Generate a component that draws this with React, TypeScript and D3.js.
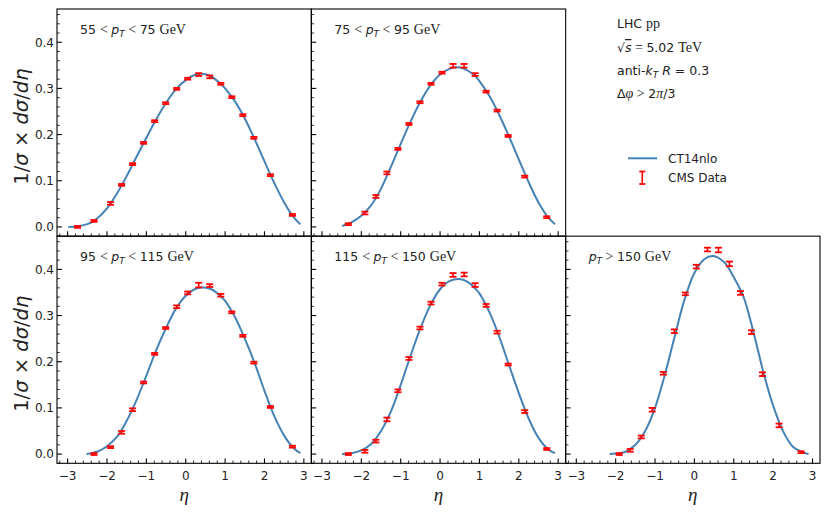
import React from "react";
import * as d3 from "d3";

// ---------- DATA ----------
const etaBins = [-2.75, -2.33, -1.91, -1.63, -1.35, -1.07, -0.79, -0.51, -0.23, 0.05, 0.33, 0.61, 0.89, 1.17, 1.45, 1.73, 2.15, 2.71];

const panelTitles = ["55 < pT < 75", "75 < pT < 95", "95 < pT < 115", "115 < pT < 150", "pT > 150"];

// CMS data (normalised), first index = first bin present in the panel
const cms55 = [0.000, 0.013, 0.051, 0.091, 0.136, 0.182, 0.229, 0.268, 0.299, 0.321, 0.330, 0.325, 0.310, 0.281, 0.242, 0.193, 0.112, 0.026];
const err55 = [0.002, 0.002, 0.003, 0.002, 0.002, 0.002, 0.002, 0.002, 0.002, 0.002, 0.003, 0.003, 0.002, 0.002, 0.002, 0.002, 0.002, 0.002];
const cms75 = [0.006, 0.030, 0.066, 0.117, 0.169, 0.223, 0.270, 0.310, 0.334, 0.349, 0.349, 0.330, 0.293, 0.252, 0.197, 0.109, 0.021];
const err75 = [0.002, 0.003, 0.003, 0.003, 0.002, 0.002, 0.002, 0.002, 0.002, 0.004, 0.004, 0.003, 0.002, 0.002, 0.002, 0.002, 0.002];
const cms95 = [0.000, 0.015, 0.047, 0.096, 0.155, 0.217, 0.273, 0.319, 0.349, 0.366, 0.365, 0.344, 0.307, 0.256, 0.198, 0.102, 0.016];
const err95 = [0.002, 0.002, 0.003, 0.003, 0.002, 0.002, 0.002, 0.003, 0.003, 0.005, 0.003, 0.003, 0.002, 0.002, 0.002, 0.002, 0.002];
const cms115 = [0.000, 0.006, 0.028, 0.075, 0.137, 0.207, 0.273, 0.327, 0.368, 0.388, 0.389, 0.366, 0.322, 0.264, 0.194, 0.092, 0.011];
const err115 = [0.002, 0.003, 0.003, 0.004, 0.003, 0.003, 0.003, 0.003, 0.003, 0.004, 0.004, 0.004, 0.003, 0.003, 0.002, 0.003, 0.002];
const cms150 = [0.000, 0.008, 0.037, 0.096, 0.175, 0.266, 0.347, 0.406, 0.443, 0.442, 0.412, 0.349, 0.264, 0.173, 0.062, 0.004];
const err150 = [0.002, 0.003, 0.003, 0.004, 0.003, 0.004, 0.003, 0.004, 0.004, 0.005, 0.005, 0.004, 0.004, 0.004, 0.004, 0.002];
const firstBin = [0, 1, 1, 1, 2];

// CT14nlo theory curves [eta, value]
const ct55: [number, number][] = [[-2.98, 0.000], [-2.75, 0.001], [-2.5, 0.006], [-2.33, 0.013], [-2.0, 0.040], [-1.75, 0.072], [-1.5, 0.110], [-1.25, 0.152], [-1.0, 0.193], [-0.75, 0.233], [-0.5, 0.269], [-0.25, 0.298], [0.0, 0.318], [0.25, 0.330], [0.4, 0.332], [0.6, 0.328], [0.85, 0.313], [1.0, 0.300], [1.25, 0.272], [1.5, 0.235], [1.75, 0.190], [2.0, 0.142], [2.25, 0.095], [2.5, 0.053], [2.75, 0.020], [2.91, 0.006]];
const ct75: [number, number][] = [[-2.49, 0.002], [-2.25, 0.010], [-2.0, 0.024], [-1.75, 0.047], [-1.5, 0.083], [-1.25, 0.130], [-1.0, 0.180], [-0.75, 0.228], [-0.5, 0.271], [-0.25, 0.306], [0.0, 0.330], [0.25, 0.343], [0.43, 0.346], [0.6, 0.343], [0.85, 0.330], [1.0, 0.316], [1.25, 0.284], [1.5, 0.243], [1.75, 0.196], [2.0, 0.146], [2.25, 0.097], [2.5, 0.053], [2.75, 0.020], [2.92, 0.006]];
const ct95: [number, number][] = [[-2.52, 0.000], [-2.25, 0.005], [-2.0, 0.017], [-1.75, 0.037], [-1.5, 0.072], [-1.25, 0.117], [-1.0, 0.170], [-0.75, 0.225], [-0.5, 0.273], [-0.25, 0.315], [0.0, 0.343], [0.25, 0.358], [0.45, 0.361], [0.65, 0.357], [0.9, 0.341], [1.0, 0.332], [1.25, 0.297], [1.5, 0.250], [1.75, 0.197], [2.0, 0.137], [2.25, 0.082], [2.5, 0.040], [2.75, 0.012], [2.91, 0.002]];
const ct115: [number, number][] = [[-2.49, 0.000], [-2.25, 0.002], [-2.0, 0.008], [-1.75, 0.022], [-1.5, 0.050], [-1.25, 0.092], [-1.0, 0.150], [-0.75, 0.213], [-0.5, 0.272], [-0.25, 0.322], [0.0, 0.357], [0.25, 0.375], [0.48, 0.379], [0.7, 0.373], [0.9, 0.358], [1.0, 0.348], [1.25, 0.308], [1.5, 0.255], [1.75, 0.193], [2.0, 0.132], [2.25, 0.077], [2.5, 0.035], [2.75, 0.010], [2.92, 0.002]];
const ct150: [number, number][] = [[-2.15, 0.000], [-2.0, 0.001], [-1.75, 0.005], [-1.5, 0.020], [-1.25, 0.050], [-1.0, 0.100], [-0.75, 0.172], [-0.5, 0.255], [-0.25, 0.335], [0.0, 0.392], [0.25, 0.422], [0.47, 0.429], [0.75, 0.416], [1.0, 0.383], [1.25, 0.340], [1.5, 0.264], [1.75, 0.178], [2.0, 0.105], [2.25, 0.050], [2.5, 0.016], [2.75, 0.004], [2.9, 0.000]];

const xTickValues = [-3, -2, -1, 0, 1, 2, 3];
const yTickValues = [0, 0.1, 0.2, 0.3, 0.4];

// ---------- LAYOUT ----------
const W = 830, H = 514;
const L = 57, R = 820, T = 9, B = 463.3;
const PW = (R - L) / 3, PH = (B - T) / 2;
const xDomain: [number, number] = [-3.27, 3.19];
const yDomain: [number, number] = [-0.02, 0.472];

const SANS = "'DejaVu Sans', sans-serif";
const SERIF = "'Liberation Serif', 'DejaVu Serif', serif";
const BLUE = "#4682b4";
const RED = "#ff0000";

const panels = [
  { col: 0, row: 0, vals: cms55, errs: err55, curve: ct55, lo: "55", hi: "75" },
  { col: 1, row: 0, vals: cms75, errs: err75, curve: ct75, lo: "75", hi: "95" },
  { col: 0, row: 1, vals: cms95, errs: err95, curve: ct95, lo: "95", hi: "115" },
  { col: 1, row: 1, vals: cms115, errs: err115, curve: ct115, lo: "115", hi: "150" },
  { col: 2, row: 1, vals: cms150, errs: err150, curve: ct150, lo: "", hi: "150" },
];

const fmtX = (v: number) => (v < 0 ? "\u2212" + Math.abs(v) : String(v));

function Panel({ p, idx }: { p: typeof panels[number]; idx: number }) {
  const x0 = L + p.col * PW;
  const y0 = T + p.row * PH;
  const x = d3.scaleLinear().domain(xDomain).range([x0, x0 + PW]);
  const y = d3.scaleLinear().domain(yDomain).range([y0 + PH, y0]);
  const line = d3.line<[number, number]>().x(d => x(d[0])).y(d => y(d[1])).curve(d3.curveCatmullRom);
  const xMinor = d3.range(-3.2, 3.21, 0.2).filter(v => Math.abs(v - Math.round(v)) > 1e-6 && v >= xDomain[0] && v <= xDomain[1]);
  const yMinor = d3.range(-0.02, 0.471, 0.02).filter(v => Math.abs(v * 10 - Math.round(v * 10)) > 1e-6 && v >= yDomain[0]);
  const showY = p.col === 0;
  const showX = p.row === 1;
  const fb = firstBin[idx];
  const tx = x0 + 23, ty = y0 + 25;
  return (
    <g>
      <path d={line(p.curve) || ""} fill="none" stroke={BLUE} strokeWidth={2} />
      {p.vals.map((v, i) => {
        const cx = x(etaBins[fb + i]);
        const e = p.errs[i];
        return (
          <g key={i} stroke={RED}>
            <line x1={cx} x2={cx} y1={y(v - e)} y2={y(v + e)} strokeWidth={1.6} />
            <line x1={cx - 3.5} x2={cx + 3.5} y1={y(v - e)} y2={y(v - e)} strokeWidth={1.8} />
            <line x1={cx - 3.5} x2={cx + 3.5} y1={y(v + e)} y2={y(v + e)} strokeWidth={1.8} />
          </g>
        );
      })}
      <rect x={x0} y={y0} width={PW} height={PH} fill="none" stroke="#000" strokeWidth={1.1} />
      {/* x ticks */}
      {xTickValues.map(v => (
        <line key={"xm" + v} x1={x(v)} x2={x(v)} y1={y0 + PH} y2={y0 + PH - 4.9} stroke="#000" strokeWidth={1.1} />
      ))}
      {xMinor.map((v, i) => (
        <line key={"xn" + i} x1={x(v)} x2={x(v)} y1={y0 + PH} y2={y0 + PH - 2.8} stroke="#000" strokeWidth={0.8} />
      ))}
      {showX && xTickValues.map(v => (
        <text key={"xl" + v} x={x(v)} y={y0 + PH + 17} textAnchor="middle" fontFamily={SANS} fontSize={12} fill="#222">{fmtX(v)}</text>
      ))}
      {showX && (
        <text x={x0 + PW / 2} y={y0 + PH + 38} textAnchor="middle" fontFamily={SERIF} fontStyle="italic" fontSize={19} fill="#222">η</text>
      )}
      {/* y ticks */}
      {yTickValues.map(v => (
        <line key={"ym" + v} x1={x0} x2={x0 + 4.9} y1={y(v)} y2={y(v)} stroke="#000" strokeWidth={1.1} />
      ))}
      {yMinor.map((v, i) => (
        <line key={"yn" + i} x1={x0} x2={x0 + 2.8} y1={y(v)} y2={y(v)} stroke="#000" strokeWidth={0.8} />
      ))}
      {showY && yTickValues.map(v => (
        <text key={"yl" + v} x={x0 - 3} y={y(v) + 4.3} textAnchor="end" fontFamily={SANS} fontSize={12} fill="#222">{v.toFixed(1)}</text>
      ))}
      {showY && (
        <text transform={`translate(${x0 - 29},${y0 + PH / 2 + 4}) rotate(-90)`} textAnchor="middle" fontSize={19.5} fill="#222" fontFamily={SANS}>
          <tspan>1/</tspan><tspan fontStyle="italic">σ</tspan><tspan>{" \u00d7 "}</tspan><tspan fontStyle="italic">dσ</tspan><tspan>/</tspan><tspan fontStyle="italic">dη</tspan>
        </text>
      )}
      {/* title */}
      <text x={tx} y={ty} fontSize={12.5} fill="#222">
        {p.lo !== "" && <tspan fontFamily={SANS}>{p.lo} </tspan>}
        {p.lo !== "" && <tspan fontFamily={SERIF} fontSize={14}>{"< "}</tspan>}
        <tspan fontFamily={SANS} fontStyle="italic">p</tspan>
        <tspan fontFamily={SANS} fontStyle="italic" fontSize={9} dy={2.5}>T</tspan>
        <tspan fontFamily={SERIF} fontSize={14} dy={-2.5}>{p.lo !== "" ? " < " : " > "}</tspan>
        <tspan fontFamily={SANS}>{p.hi} </tspan>
        <tspan fontFamily={SERIF} fontSize={14}>GeV</tspan>
      </text>
    </g>
  );
}

export default function App() {
  const tx = 617;
  return (
    <svg width={W} height={H} style={{ display: "block", position: "absolute", left: 0, top: 0 }}>
      <rect width={W} height={H} fill="#fff" />
      {panels.map((p, i) => <Panel key={i} p={p} idx={i} />)}
      {/* annotation */}
      <g fill="#222" fontSize={12.5}>
        <text x={tx} y={28}><tspan fontFamily={SANS}>LHC </tspan><tspan fontFamily={SERIF} fontSize={14}>pp</tspan></text>
        <text x={tx} y={52}>
          <tspan fontFamily={SANS}>√</tspan><tspan fontFamily={SANS} fontStyle="italic" textDecoration="overline">s</tspan>
          <tspan fontFamily={SERIF} fontSize={14}> = </tspan><tspan fontFamily={SANS}>5.02 </tspan><tspan fontFamily={SERIF} fontSize={14}>TeV</tspan>
        </text>
        <text x={tx} y={75}>
          <tspan fontFamily={SANS}>anti-</tspan><tspan fontFamily={SANS} fontStyle="italic">k</tspan>
          <tspan fontFamily={SANS} fontStyle="italic" fontSize={9} dy={2.5}>T</tspan>
          <tspan fontFamily={SANS} fontStyle="italic" dy={-2.5}> R</tspan><tspan fontFamily={SANS}> = 0.3</tspan>
        </text>
        <text x={tx} y={98}>
          <tspan fontFamily={SANS}>Δ</tspan><tspan fontFamily={SERIF} fontStyle="italic" fontSize={14}>φ</tspan>
          <tspan fontFamily={SERIF} fontSize={14}> &gt; </tspan><tspan fontFamily={SANS}>2</tspan>
          <tspan fontFamily={SERIF} fontStyle="italic" fontSize={14}>π</tspan><tspan fontFamily={SANS}>/3</tspan>
        </text>
      </g>
      {/* legend */}
      <line x1={628} x2={657} y1={158.3} y2={158.3} stroke={BLUE} strokeWidth={2} />
      <text x={668} y={163} fontFamily={SANS} fontSize={12} fill="#222">CT14nlo</text>
      <g stroke={RED}>
        <line x1={642.3} x2={642.3} y1={171.5} y2={184} strokeWidth={1.6} />
        <line x1={639.3} x2={645.3} y1={171.5} y2={171.5} strokeWidth={1.8} />
        <line x1={639.3} x2={645.3} y1={184} y2={184} strokeWidth={1.8} />
      </g>
      <text x={668} y={182} fontFamily={SANS} fontSize={12} fill="#222">CMS Data</text>
    </svg>
  );
}
